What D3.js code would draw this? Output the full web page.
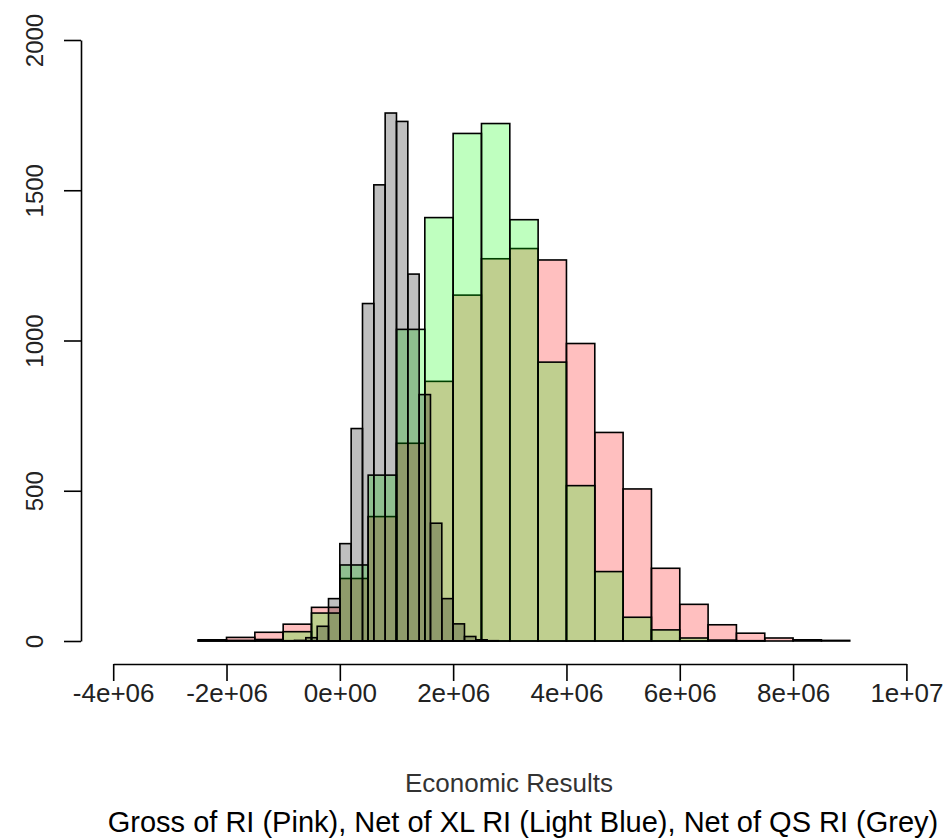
<!DOCTYPE html>
<html>
<head>
<meta charset="utf-8">
<script src="https://cdn.jsdelivr.net/npm/d3@7"></script>
<style>
  body { margin: 0; background: #fff; }
  text { font-family: "Liberation Sans", Arial, sans-serif; }
</style>
</head>
<body>
<div id="hist"></div>
<script>
// DATA
// ------------------------------------------------------------------

// Gross of RI (pink), breaks every 0.5e6
var grossBreaks = [-2.5e6, -2.0e6, -1.5e6, -1.0e6, -0.5e6, 0, 0.5e6, 1.0e6,
                   1.5e6, 2.0e6, 2.5e6, 3.0e6, 3.5e6, 4.0e6, 4.5e6, 5.0e6,
                   5.5e6, 6.0e6, 6.5e6, 7.0e6, 7.5e6, 8.0e6, 8.5e6, 9.0e6];
var grossCounts = [4, 12, 29, 56, 112, 208, 414, 658, 864, 1151, 1272, 1306,
                   1268, 990, 694, 506, 242, 122, 54, 26, 10, 4, 2];

// Net of XL RI (green), breaks every 0.5e6
var xlBreaks = [-2.5e6, -2.0e6, -1.5e6, -1.0e6, -0.5e6, 0, 0.5e6, 1.0e6,
                1.5e6, 2.0e6, 2.5e6, 3.0e6, 3.5e6, 4.0e6, 4.5e6, 5.0e6,
                5.5e6, 6.0e6, 6.5e6, 7.0e6, 7.5e6];
var xlCounts = [1, 2, 5, 31, 93, 253, 552, 1037, 1409, 1689, 1722, 1402,
                928, 517, 231, 79, 37, 10, 3, 1];

// Net of QS RI (grey), breaks every 0.2e6
var qsBreaks = [-1.0e6, -0.8e6, -0.6e6, -0.4e6, -0.2e6, 0, 0.2e6, 0.4e6,
                0.6e6, 0.8e6, 1.0e6, 1.2e6, 1.4e6, 1.6e6, 1.8e6, 2.0e6,
                2.2e6, 2.4e6, 2.6e6, 2.8e6];
var qsCounts = [1, 2, 11, 49, 141, 324, 707, 1123, 1518, 1757, 1729, 1221,
                820, 392, 141, 57, 15, 4, 1];

var xTicks = [-4e6, -2e6, 0, 2e6, 4e6, 6e6, 8e6, 1e7];
var xTickLabels = ["-4e+06", "-2e+06", "0e+00", "2e+06", "4e+06", "6e+06",
                   "8e+06", "1e+07"];
var yTicks = [0, 500, 1000, 1500, 2000];
var yTickLabels = ["0", "500", "1000", "1500", "2000"];

// CANVAS
// ------------------------------------------------------------------

var width = 949,
    height = 839;

var svg = d3.select("#hist")
    .append("svg")
    .attr("width", width)
    .attr("height", height);

var xScale = d3.scaleLinear()
        .domain([-4e6, 1e7])
        .range([113.2, 906.4]),
    yScale = d3.scaleLinear()
        .domain([0, 2000])
        .range([641, 40]);

// BARS
// ------------------------------------------------------------------

function drawHist(breaks, counts, fill) {
  var bins = counts.map(function(c, i) {
    return { x0: breaks[i], x1: breaks[i + 1], n: c };
  });
  svg.append("g")
    .selectAll("rect")
    .data(bins)
    .enter().append("rect")
      .attr("x", function(d) { return xScale(d.x0); })
      .attr("y", function(d) { return yScale(d.n); })
      .attr("width", function(d) { return xScale(d.x1) - xScale(d.x0); })
      .attr("height", function(d) { return yScale(0) - yScale(d.n); })
      .attr("fill", fill)
      .attr("stroke", "#000")
      .attr("stroke-width", 1.6);
}

drawHist(grossBreaks, grossCounts, "rgba(255,0,0,0.25)");
drawHist(xlBreaks, xlCounts, "rgba(0,255,0,0.25)");
drawHist(qsBreaks, qsCounts, "rgba(0,0,0,0.25)");

// AXES
// ------------------------------------------------------------------

var xAxis = d3.axisBottom(xScale)
    .tickValues(xTicks)
    .tickFormat(function(d, i) { return xTickLabels[i]; })
    .tickSize(17)
    .tickSizeOuter(0)
    .tickPadding(3);

var yAxis = d3.axisLeft(yScale)
    .tickValues(yTicks)
    .tickFormat(function(d, i) { return yTickLabels[i]; })
    .tickSize(17)
    .tickSizeOuter(0);

var gx = svg.append("g")
    .attr("transform", "translate(0,664)")
    .call(xAxis);
gx.selectAll("text")
    .attr("font-size", 26)
    .attr("fill", "#222")
    .attr("font-family", null);

var gy = svg.append("g")
    .attr("transform", "translate(81,0)")
    .call(yAxis);
gy.selectAll(".tick text")
    .attr("x", null)
    .attr("dy", null)
    .attr("font-size", 24)
    .attr("fill", "#222")
    .attr("font-family", null)
    .attr("text-anchor", "middle")
    .attr("transform", "translate(-38,0) rotate(-90)");

svg.selectAll(".domain, .tick line")
    .attr("stroke", "#000")
    .attr("stroke-width", 1.6);

// LABELS
// ------------------------------------------------------------------

svg.append("text")
    .attr("x", 509)
    .attr("y", 792)
    .attr("text-anchor", "middle")
    .attr("font-size", 26)
    .attr("fill", "#333")
    .text("Economic Results");

svg.append("text")
    .attr("x", 523)
    .attr("y", 832)
    .attr("text-anchor", "middle")
    .attr("font-size", 29)
    .attr("fill", "#000")
    .text("Gross of RI (Pink), Net of XL RI (Light Blue), Net of QS RI (Grey)");
</script>
</body>
</html>
